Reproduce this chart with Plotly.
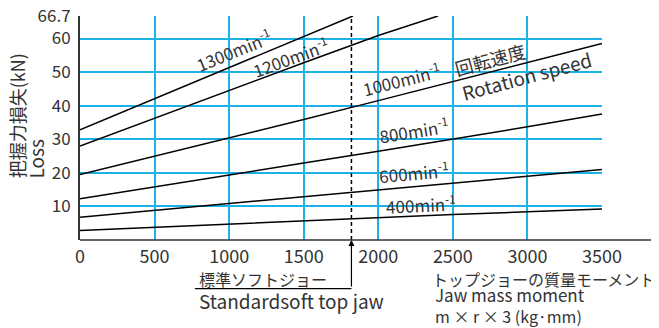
import plotly.graph_objects as go

# jaw mass moment (kg*mm)
moment = [0, 500, 1000, 1500, 2000, 2500, 3000, 3500]

# gripping force loss (kN) per rotation speed
loss_400 = [2.8, 3.8, 4.8, 5.8, 6.7, 7.6, 8.4, 9.2]
loss_600 = [6.8, 8.8, 10.8, 12.8, 14.9, 16.9, 18.9, 21.0]
loss_800 = [12.3, 15.9, 19.4, 22.9, 26.4, 30.0, 33.7, 37.5]
loss_1000 = [19.5, 24.9, 30.4, 35.9, 41.5, 47.2, 52.8, 58.5]
# the two fastest curves leave the chart at the top (66.7)
moment_1200 = [0, 500, 1000, 1500, 2000, 2400]
loss_1200 = [28.0, 36.3, 44.6, 52.8, 60.9, 66.7]
moment_1300 = [0, 500, 1000, 1500, 1830]
loss_1300 = [32.8, 42.0, 51.3, 60.6, 66.7]

x_ticks = [0, 500, 1000, 1500, 2000, 2500, 3000, 3500]
y_ticks = [10, 20, 30, 40, 50, 60, 66.7]
y_max = 66.7
std_jaw = 1820  # standard soft top jaw moment

FONT = "Noto Sans CJK JP"
TXT = "#333333"
GRID = "#1db2e6"

fig = go.Figure()
for xs, ys in [(moment, loss_400), (moment, loss_600), (moment, loss_800),
               (moment, loss_1000), (moment_1200, loss_1200), (moment_1300, loss_1300)]:
    fig.add_trace(go.Scatter(x=xs, y=ys, mode="lines",
                             line=dict(color="black", width=1.5), showlegend=False,
                             hoverinfo="skip"))

# dashed line for the standard jaw
fig.add_shape(type="line", x0=std_jaw, x1=std_jaw, y0=0, y1=y_max, xref="x", yref="y",
              line=dict(color="black", width=1.5, dash="4px,3px"))

# x axis line running past the grid
fig.add_shape(type="line", x0=0, x1=1.11, y0=0, y1=0, xref="paper", yref="paper",
              line=dict(color=TXT, width=1.5))

# bracket with arrow for the standard jaw
fig.add_shape(type="line", x0=0.22, x1=(std_jaw / 3500), y0=-0.217, y1=-0.217,
              xref="paper", yref="paper", line=dict(color="black", width=1.2))
fig.add_annotation(x=std_jaw, y=0, xref="x", yref="paper", ax=0, ay=48, text="",
                   showarrow=True, arrowhead=2, arrowsize=1, arrowwidth=1.2, arrowcolor="black")

curve_labels = [
    ("1300min<sup>-1</sup>", 1027, 56.7, -22, 17),
    ("1200min<sup>-1</sup>", 1409, 54.6, -20, 17),
    ("1000min<sup>-1</sup>", 2154, 47.8, -14, 17),
    ("回転速度", 2752, 53.9, -15, 18),
    ("Rotation speed", 2993, 48.9, -15, 19),
    ("800min<sup>-1</sup>", 2242, 32.8, -9, 17),
    ("600min<sup>-1</sup>", 2242, 20.2, -5, 17),
    ("400min<sup>-1</sup>", 2289, 10.6, -2.5, 17),
]
for text, x, y, ang, size in curve_labels:
    fig.add_annotation(x=x, y=y, xref="x", yref="y", text=text, textangle=ang,
                       showarrow=False, font=dict(family=FONT, size=size, color=TXT))

bottom_labels = [
    ("標準ソフトジョー", 0.224, -0.172, 16),
    ("Standardsoft top jaw", 0.224, -0.271, 19),
    ("トップジョーの質量モーメント", 0.67, -0.172, 16),
    ("Jaw mass moment", 0.676, -0.244, 17),
    ("m × r × 3 (kg·mm)", 0.676, -0.338, 16),
]
for text, x, y, size in bottom_labels:
    fig.add_annotation(x=x, y=y, xref="paper", yref="paper", text=text, xanchor="left",
                       yanchor="middle", showarrow=False,
                       font=dict(family=FONT, size=size, color=TXT))

fig.add_annotation(x=-0.12, y=0.266, xref="paper", yref="paper", text="把握力損失(kN)",
                   textangle=-90, xanchor="center", yanchor="bottom", showarrow=False,
                   font=dict(family=FONT, size=18, color=TXT))
fig.add_annotation(x=-0.085, y=0.266, xref="paper", yref="paper", text="Loss",
                   textangle=-90, xanchor="center", yanchor="bottom", showarrow=False,
                   font=dict(family=FONT, size=19, color=TXT))

fig.update_xaxes(range=[0, 3500], tickvals=x_ticks, ticktext=[str(v) for v in x_ticks],
                 showgrid=True, gridcolor=GRID, gridwidth=1.5, zeroline=False, automargin=False,
                 showline=False, ticks="", ticklabelstandoff=4,
                 tickfont=dict(family=FONT, size=18, color=TXT))
fig.update_yaxes(range=[0, y_max], tickvals=y_ticks, ticktext=["10", "20", "30", "40", "50", "60", "66.7"],
                 showgrid=True, gridcolor=GRID, gridwidth=1.5, zeroline=False, automargin=False,
                 showline=True, linecolor=TXT, linewidth=2, ticks="", ticklabelstandoff=4,
                 ticklabeloverflow="allow", tickfont=dict(family=FONT, size=17, color=TXT))

# the page body adds 8px around the figure, so the figure is 8px smaller
fig.update_layout(width=651, height=320, margin=dict(l=72, r=57, t=8, b=88),
                  paper_bgcolor="white", plot_bgcolor="white")

fig.write_html("out.html")
